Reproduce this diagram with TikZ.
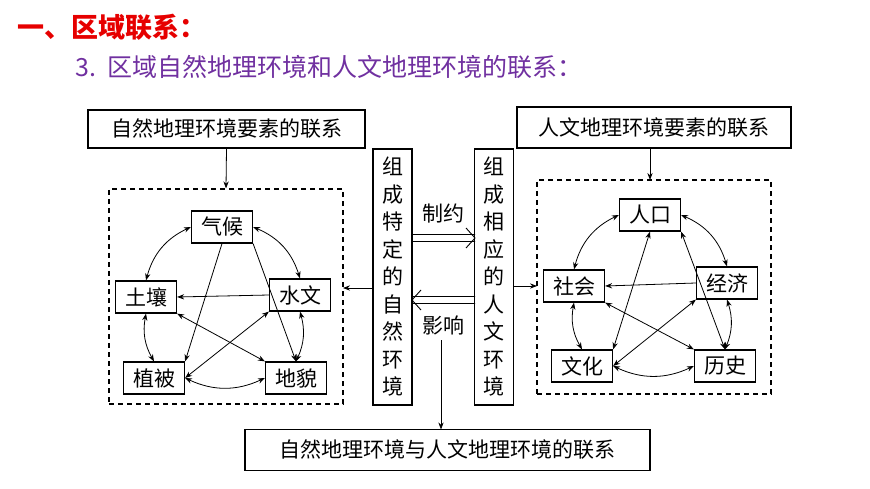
\documentclass[tikz,border=0pt]{standalone}
\usepackage{fontspec}
\newfontfamily\cjk{Noto Sans CJK SC}
\usetikzlibrary{arrows.meta}
\definecolor{tred}{RGB}{230,0,0}
\definecolor{tpurple}{RGB}{112,48,160}
\begin{document}
\begin{tikzpicture}[x=1pt,y=-1pt,
  box/.style={draw,line width=1.2pt,inner sep=0,font=\cjk\fontsize{21}{22}\selectfont},
  el/.style={draw,line width=1.2pt,minimum width=61pt,minimum height=32pt,inner sep=0,font=\cjk\fontsize{21}{22}\selectfont},
  vbox/.style={draw,line width=1.2pt,minimum width=39pt,minimum height=256pt,inner sep=0,font=\cjk\fontsize{21}{27.5}\selectfont,align=center},
  dbox/.style={draw,line width=1.1pt,dash pattern=on 5pt off 4pt},
  arr/.style={-{Stealth[length=7pt]},line width=0.8pt},
  darr/.style={{Stealth[length=7pt]}-{Stealth[length=7pt]},line width=0.8pt},
  lbl/.style={font=\cjk\fontsize{21}{22}\selectfont}]
\useasboundingbox (0,0) rectangle (870,489);
\node[anchor=west,text=tred,font=\cjk\bfseries\fontsize{27}{28}\selectfont] (t1) at (14,27) {一、区域联系：};
\node[anchor=west,text=tpurple,font=\cjk\fontsize{25}{26}\selectfont] (t2) at (72,67) {3.\ \ 区域自然地理环境和人文地理环境的联系：};
% left
\node[box,minimum width=277pt,minimum height=38pt] (lt) at (226.5,129) {自然地理环境要素的联系};
\node[dbox,minimum width=234pt,minimum height=215pt] (ld) at (226,296.5) {};
\node[el] (qh) at (222,227) {气候};
\node[el] (tr) at (146,297) {土壤};
\node[el] (sw) at (300,295) {水文};
\node[el] (zb) at (154,378) {植被};
\node[el] (dm) at (296,378) {地貌};
\draw[arr] (lt.south) -- (ld.north);
\draw[darr] (qh.west) to[bend right=25] (tr.north);
\draw[darr] (qh.east) to[bend left=25] (sw.north);
\draw[darr] (tr.south) to[bend right=20] (zb.north);
\draw[darr] (sw.south) to[bend left=20] (dm.north);
\draw[darr] (zb.east) to[bend right=25] (dm.west);
\draw[arr] (qh.south) -- (zb.north east);
\draw[arr] (qh.south east) -- (dm.north);
\draw[arr] (sw.west) -- (tr.east);
\draw[darr] (sw.south west) -- (zb.east);
\draw[darr] (tr.south east) -- (dm.north west);
% middle
\node[vbox] (v1) at (392.5,277) {组\\成\\特\\定\\的\\自\\然\\环\\境};
\node[vbox] (v2) at (494,277) {组\\成\\相\\应\\的\\人\\文\\环\\境};
\coordinate (m1) at (373,288);
\coordinate (m2) at (343,288);
\draw[arr] (m1) -- (m2);
\coordinate (a1) at (412,234.5);
\coordinate (a2) at (475,234.5);
\coordinate (a3) at (412,241.5);
\coordinate (a4) at (475,241.5);
\coordinate (a5) at (466,228);
\coordinate (a6) at (466,248);
\draw[line width=0.9pt] (a1) -- (a2) (a3) -- (a4) (a5) -- (475,238) -- (a6);
\coordinate (b1) at (475,296.5);
\coordinate (b2) at (412,296.5);
\coordinate (b3) at (475,303.5);
\coordinate (b4) at (412,303.5);
\coordinate (b5) at (421,290);
\coordinate (b6) at (421,310);
\draw[line width=0.9pt] (b1) -- (b2) (b3) -- (b4) (b5) -- (412,300) -- (b6);
\node[lbl] (zy) at (443,214) {制约};
\node[lbl] (yx) at (443,325) {影响};
\node[box,minimum width=405pt,minimum height=41pt] (bt) at (447.5,450) {自然地理环境与人文地理环境的联系};
\coordinate (c1) at (441,340);
\coordinate (c2) at (441,429.5);
\draw[arr] (c1) -- (c2);
% right
\node[box,minimum width=274pt,minimum height=41pt] (rt) at (654,127.5) {人文地理环境要素的联系};
\node[dbox,minimum width=234pt,minimum height=214pt] (rd) at (654,287) {};
\node[el] (rk) at (650,215) {人口};
\node[el] (sh) at (574,286) {社会};
\node[el] (jj) at (727,283) {经济};
\node[el] (wh) at (582,366) {文化};
\node[el] (ls) at (725,366) {历史};
\coordinate (r1) at (650,148);
\coordinate (r2) at (650,180);
\draw[arr] (r1) -- (r2);
\coordinate (n1) at (513,286);
\coordinate (n2) at (537,286);
\draw[arr] (n1) -- (n2);
\draw[darr] (rk.west) to[bend right=25] (sh.north);
\draw[darr] (rk.east) to[bend left=25] (jj.north);
\draw[darr] (sh.south) to[bend right=20] (wh.north);
\draw[darr] (jj.south) to[bend left=20] (ls.north);
\draw[darr] (wh.east) to[bend right=25] (ls.west);
\draw[darr] (rk.south) -- (wh.north east);
\draw[darr] (rk.south east) -- (ls.north);
\draw[arr] (jj.west) -- (sh.east);
\draw[darr] (jj.south west) -- (wh.east);
\draw[darr] (sh.south east) -- (ls.north west);
\end{tikzpicture}
\end{document}
